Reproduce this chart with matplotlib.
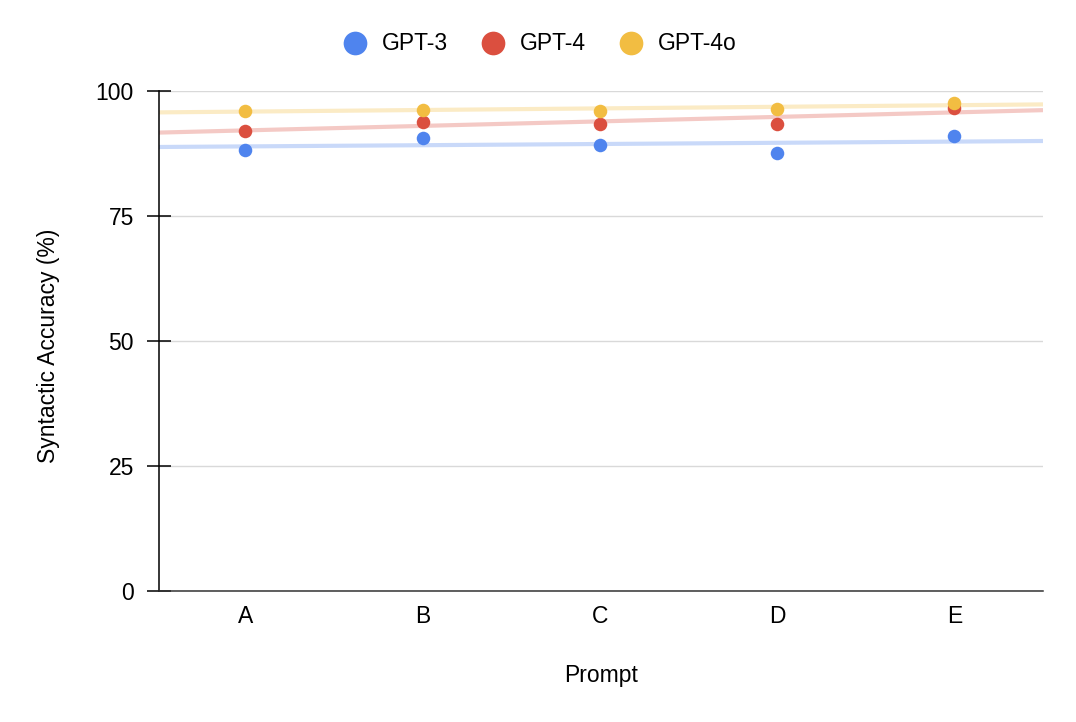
import numpy as np
import matplotlib
matplotlib.use("Agg")
import matplotlib.pyplot as plt

plt.rcParams['font.family'] = ['Liberation Sans', 'DejaVu Sans']

categories = ["A", "B", "C", "D", "E"]
gpt3 = [88.3, 90.7, 89.3, 87.7, 91.0]
gpt4 = [92.0, 93.9, 93.5, 93.5, 96.7]
gpt4o = [96.1, 96.3, 96.1, 96.5, 97.6]
series = [("GPT-3", gpt3, "#4F84EE"), ("GPT-4", gpt4, "#DB4F3F"), ("GPT-4o", gpt4o, "#F2BD42")]
yticks = [0, 25, 50, 75, 100]

FS = 16.5
fig = plt.figure(figsize=(10.76, 7.22), dpi=100)
ax = fig.add_axes([158.5/1076, 131/722, 884.5/1076, 500/722])
x = np.arange(len(categories))
xl = np.array([-0.49, 4.5])
handles = []
for name, vals, col in series:
    m, b = np.polyfit(x, vals, 1)
    ax.plot(xl, m*xl + b, color=col, lw=3, alpha=0.3, solid_capstyle='butt', zorder=2)
for name, vals, col in series:
    h = ax.scatter(x, vals, s=95, color=col, zorder=3, linewidths=0, label=name)
    handles.append(h)

ax.set_xlim(-0.49, 4.5)
ax.set_ylim(0, 100)
ax.set_yticks(yticks)
ax.set_xticks(x)
ax.set_xticklabels(categories)
ax.yaxis.grid(True, color="#d9d9d9", lw=1)
ax.set_axisbelow(True)
for s in ["top", "right"]:
    ax.spines[s].set_visible(False)
ax.spines["left"].set_color("black")
ax.spines["left"].set_linewidth(1.1)
ax.spines["bottom"].set_color("#333333")
ax.spines["bottom"].set_linewidth(1.1)
ax.tick_params(axis='y', direction='inout', length=17.3, width=1.1, labelsize=FS, pad=9)
ax.tick_params(axis='x', length=0, labelsize=FS, pad=10)
ax.set_ylabel("Syntactic Accuracy (%)", fontsize=FS)
ax.yaxis.set_label_coords(-98/884.5, 0.49)
ax.set_xlabel("Prompt", fontsize=FS, labelpad=26)

fig.legend(handles=handles, loc="center", bbox_to_anchor=(0.4965, 1 - 43/722), ncol=3,
           frameon=False, fontsize=FS, markerscale=1.75, handletextpad=0.18, columnspacing=0.95)
fig.savefig("out.png", dpi=100)
